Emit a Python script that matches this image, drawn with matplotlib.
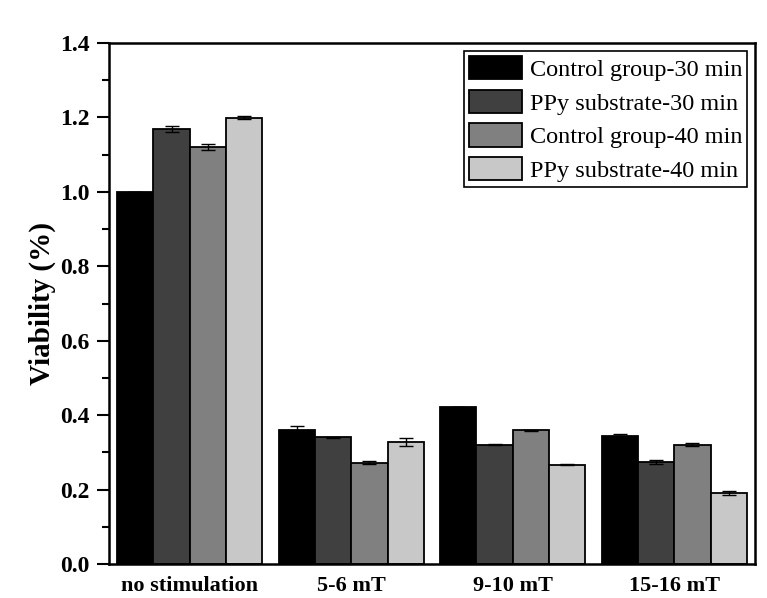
import numpy as np
import matplotlib
matplotlib.use("Agg")
import matplotlib.pyplot as plt
from matplotlib.ticker import MultipleLocator

# ---------------- DATA ----------------
categories = ["no stimulation", "5-6 mT", "9-10 mT", "15-16 mT"]
series_names = ["Control group-30 min", "PPy substrate-30 min",
                "Control group-40 min", "PPy substrate-40 min"]

control_30 = [1.00, 0.361, 0.422, 0.343]
ppy_30 = [1.169, 0.340, 0.321, 0.274]
control_40 = [1.120, 0.272, 0.359, 0.321]
ppy_40 = [1.199, 0.328, 0.267, 0.191]

control_30_err = [0.0, 0.010, 0.001, 0.005]
ppy_30_err = [0.009, 0.002, 0.002, 0.005]
control_40_err = [0.008, 0.004, 0.002, 0.003]
ppy_40_err = [0.004, 0.011, 0.002, 0.005]

colors = ["#000000", "#404040", "#808080", "#c8c8c8"]
# --------------------------------------

plt.rcParams["font.family"] = ["Liberation Serif", "DejaVu Serif"]

fig = plt.figure(figsize=(7.67, 5.98), dpi=100)
ax = fig.add_axes([0.1421, 0.0569, 0.8423, 0.8711])

x = np.arange(len(categories))
width = 0.225
values = [control_30, ppy_30, control_40, ppy_40]
errors = [control_30_err, ppy_30_err, control_40_err, ppy_40_err]

for i, (vals, errs) in enumerate(zip(values, errors)):
    offset = (i - 1.5) * width
    ax.bar(x + offset, vals, width, color=colors[i], edgecolor="black",
           linewidth=1.3, label=series_names[i],
           yerr=errs, capsize=5,
           error_kw=dict(elinewidth=1, capthick=1, ecolor="black"))

ax.set_xlim(-0.5, 3.5)
ax.set_ylim(0, 1.4)
ax.set_xticks(x)
ax.set_xticklabels(categories, fontsize=16, fontweight="bold")
ax.tick_params(axis="x", length=0, pad=9)

ax.yaxis.set_major_locator(MultipleLocator(0.2))
ax.yaxis.set_minor_locator(MultipleLocator(0.1))
ax.set_yticks(np.arange(0, 1.41, 0.2))
ax.set_yticklabels([f"{v:.1f}" for v in np.arange(0, 1.41, 0.2)],
                   fontsize=17, fontweight="bold")
ax.tick_params(axis="y", which="major", length=9, width=1.5, direction="out",
               pad=5)
ax.tick_params(axis="y", which="minor", length=5, width=1.5, direction="out")

ax.set_ylabel("Viability (%)", fontsize=21, fontweight="bold", labelpad=3)

for sp in ax.spines.values():
    sp.set_linewidth(1.8)

leg = ax.legend(loc="upper right", fontsize=17.5, frameon=True,
                fancybox=False, edgecolor="black", framealpha=1,
                handlelength=2.2, handleheight=1.1, labelspacing=0.36,
                handletextpad=0.3, borderpad=0.2, borderaxespad=0.33)
leg.get_frame().set_linewidth(1.2)

plt.savefig("out.png", dpi=100)
plt.close()
